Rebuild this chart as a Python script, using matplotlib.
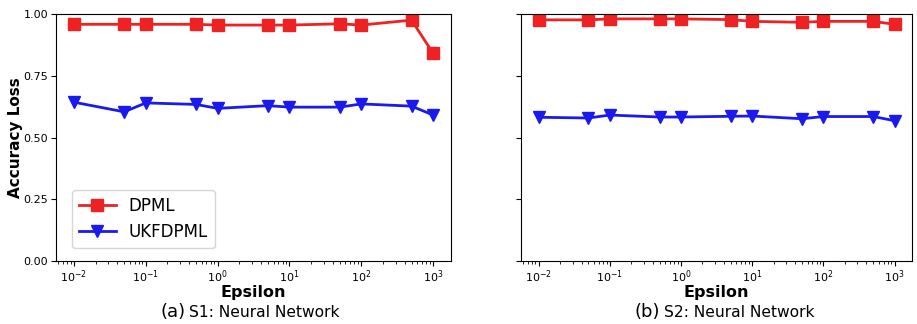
import numpy as np
import matplotlib
matplotlib.use("Agg")
import matplotlib.pyplot as plt

epsilon = [0.01, 0.05, 0.1, 0.5, 1, 5, 10, 50, 100, 500, 1000]

s1_dpml = [0.958, 0.958, 0.958, 0.958, 0.955, 0.955, 0.955, 0.960, 0.955, 0.975, 0.840]
s1_ukf = [0.643, 0.604, 0.640, 0.634, 0.618, 0.629, 0.623, 0.623, 0.636, 0.627, 0.591]

s2_dpml = [0.976, 0.976, 0.980, 0.980, 0.980, 0.977, 0.970, 0.966, 0.970, 0.970, 0.958]
s2_ukf = [0.582, 0.579, 0.591, 0.583, 0.583, 0.586, 0.587, 0.576, 0.585, 0.585, 0.568]

tags = ["(a)", "(b)"]
captions = ["S1: Neural Network", "S2: Neural Network"]

red = '#ee2222'
blue = '#1a1aee'

fig = plt.figure(figsize=(9.17, 3.24), dpi=100)
ax1 = fig.add_axes([0.061, 0.194, 0.431, 0.763])
ax2 = fig.add_axes([0.568, 0.194, 0.427, 0.763], sharey=ax1)

splits = [0.332, 0.361]
for i, (ax, dp, ukf) in enumerate([(ax1, s1_dpml, s1_ukf), (ax2, s2_dpml, s2_ukf)]):
    ax.plot(epsilon, dp, color=red, marker='s', markersize=9, linewidth=2, label='DPML')
    ax.plot(epsilon, ukf, color=blue, marker='v', markersize=9, linewidth=2, label='UKFDPML')
    ax.set_xscale('log')
    ax.set_ylim(0, 1)
    ax.set_yticks([0, 0.25, 0.5, 0.75, 1.0])
    ax.tick_params(labelsize=8, pad=2)
    ax.set_xlabel('Epsilon', fontsize=11.5, fontweight='bold', labelpad=0)
    # caption under each panel, "(a)" a bit larger than the rest
    ax.text(splits[i] - 0.005, -0.206, tags[i], transform=ax.transAxes, ha='right', va='center', fontsize=13)
    ax.text(splits[i] + 0.005, -0.206, captions[i], transform=ax.transAxes, ha='left', va='center', fontsize=11.2)

ax1.yaxis.set_major_formatter(matplotlib.ticker.FormatStrFormatter('%.2f'))
ax1.set_ylabel('Accuracy Loss', fontsize=11, fontweight='bold')
ax1.yaxis.set_label_coords(-0.083, 0.5)
plt.setp(ax2.get_yticklabels(), visible=False)
ax1.legend(loc='lower left', fontsize=12, bbox_to_anchor=(0.02, 0.02), handlelength=2.2)

fig.savefig('out.png', dpi=100)
